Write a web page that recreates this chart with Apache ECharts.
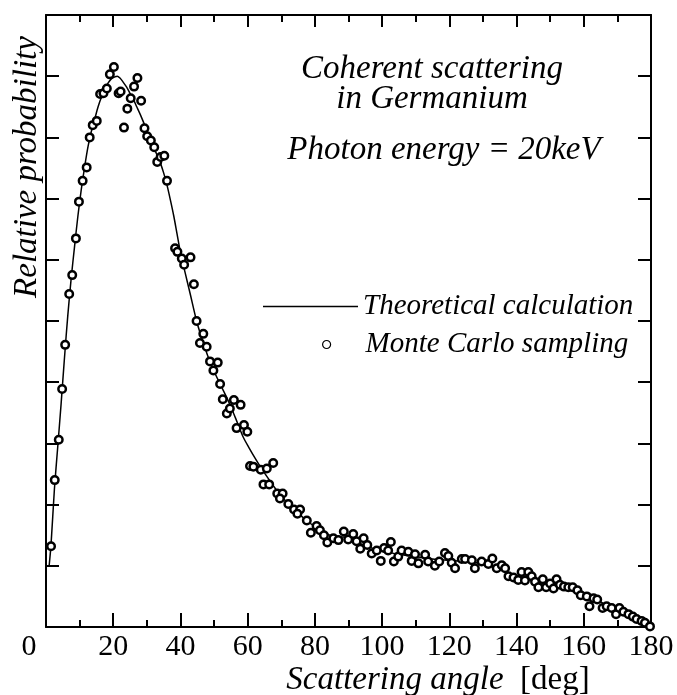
<!DOCTYPE html>
<html>
<head>
<meta charset="utf-8">
<script src="https://cdn.jsdelivr.net/npm/echarts@6/dist/echarts.min.js"></script>
<style>
html,body{margin:0;padding:0;background:#fff;}
#chart{width:677px;height:695px;}
</style>
</head>
<body>
<div id="chart"></div>
<script>
// ---- data ----
var xTickLabels = ['0','20','40','60','80','100','120','140','160','180'];
var xTickValues = [0,20,40,60,80,100,120,140,160,180];

// Theoretical calculation curve: [angle deg, relative probability]
var theoryAngle = [0.9,1.5,2.5,3.5,4.5,5.5,6.5,7.5,8.5,9.5,10.5,11.5,12.5,13.5,14.5,15.5,16.5,17.5,18.5,19.5,20.5,21.2,22,23,24,25,26,27,28,29.5,31,32.5,33.9,35,36,37,38,39,40,41,42,43,44.8,46,48,50,51.8,53.5,55,57,58.7,60.5,62.2,64,65.7,68,70,72.5,75,77.5,80,82.5,85,87,88.5,90,92.5,95,97.5,100,105,110,115,120,125,130,135,140,145,150,155,160,165,170,175,180];
var theoryValue = [0.98,1.35,2.25,2.95,3.65,4.4,5.1,5.7,6.22,6.72,7.15,7.52,7.85,8.1,8.3,8.5,8.66,8.79,8.89,8.96,8.99,9.0,8.97,8.9,8.82,8.72,8.62,8.5,8.38,8.18,7.95,7.78,7.6,7.42,7.22,6.98,6.72,6.42,6.12,5.88,5.65,5.42,5.0,4.78,4.45,4.18,3.97,3.78,3.6,3.33,3.1,2.92,2.76,2.6,2.46,2.28,2.14,1.99,1.86,1.74,1.64,1.55,1.49,1.47,1.47,1.45,1.39,1.33,1.28,1.24,1.19,1.15,1.11,1.09,1.07,1.03,0.94,0.84,0.77,0.7,0.63,0.53,0.41,0.28,0.15,0.02];

// Monte Carlo sampling points
var mcAngle = [1.5,2.6,3.8,4.8,5.7,6.9,7.8,8.9,9.8,10.9,12.1,13.0,13.9,15.1,16.1,17.1,18.1,19.0,20.2,21.6,22.2,23.2,24.2,25.2,26.2,27.2,28.3,29.3,30.1,31.2,32.2,33.1,34.1,35.2,36.0,
  38.4,39.1,40.4,41.1,43.0,44.0,44.8,45.8,46.8,47.8,48.8,49.8,51.1,51.8,52.6,53.8,54.7,55.9,56.7,57.9,58.9,59.9,
  60.7,61.7,63.9,65.7,67.6,64.7,66.4,68.8,70.4,69.6,72.1,73.8,75.6,74.8,77.6,78.8,80.5,81.5,82.7,83.7,85.5,87.0,88.6,89.9,91.4,92.4,93.5,94.5,95.6,96.9,98.4,99.6,
  100.6,101.8,102.6,103.5,104.8,105.8,107.8,108.8,109.8,110.8,112.8,113.7,115.7,117.0,118.7,119.7,120.7,121.7,123.7,124.7,126.7,127.6,129.6,131.6,132.8,134.1,
  135.6,136.6,137.6,139.1,140.5,141.5,142.5,143.5,144.5,145.5,146.5,147.8,148.8,150.0,151.0,151.9,152.9,154.1,155.4,156.7,158.1,159.1,160.9,161.7,162.9,164.0,165.6,166.8,168.3,169.6,170.6,171.8,173.3,174.6,175.7,177.2,178.2,179.7];
var mcValue = [1.32,2.40,3.06,3.89,4.61,5.44,5.75,6.35,6.95,7.29,7.51,8.0,8.2,8.27,8.71,8.72,8.80,9.03,9.15,8.72,8.75,8.16,8.47,8.64,8.83,8.97,8.60,8.15,8.02,7.95,7.84,7.60,7.68,7.70,7.29,
  6.19,6.13,6.02,5.92,6.04,5.60,5.00,4.64,4.79,4.58,4.34,4.19,4.32,3.97,3.72,3.49,3.57,3.71,3.25,3.63,3.30,3.19,
  2.63,2.62,2.57,2.59,2.68,2.33,2.33,2.18,2.18,2.10,2.01,1.92,1.92,1.85,1.74,1.54,1.65,1.58,1.50,1.38,1.45,1.42,1.56,1.43,1.52,1.40,1.28,1.45,1.34,1.20,1.25,1.08,
  1.29,1.25,1.39,1.07,1.15,1.25,1.23,1.08,1.19,1.04,1.18,1.07,1.00,1.07,1.21,1.16,1.05,0.96,1.11,1.11,1.09,0.96,1.07,1.03,1.12,0.96,
  1.01,0.96,0.83,0.81,0.77,0.90,0.76,0.90,0.83,0.74,0.65,0.78,0.65,0.71,0.63,0.78,0.69,0.66,0.65,0.65,0.60,0.52,0.50,0.34,0.47,0.45,0.31,0.34,0.31,0.21,0.31,0.25,0.21,0.17,0.13,0.10,0.07,0.01];

var theoryData = theoryAngle.map(function(a,i){return [a, theoryValue[i]];});
var mcData = mcAngle.map(function(a,i){return [a, mcValue[i]];});

var SERIF = '"Liberation Serif", "DejaVu Serif", serif';
var chart = echarts.init(document.getElementById('chart'), null, {renderer:'canvas'});

function xAxisBase(pos, showLabel, tickLen){
  return {
    type:'value', position:pos, min:0, max:180, interval:20,
    axisLine:{show:true, onZero:false, lineStyle:{color:'#000', width:2}},
    axisTick:{show:true, inside:true, length:tickLen, lineStyle:{color:'#000', width:2}},
    minorTick:{show:true, splitNumber:2, length:7, lineStyle:{color:'#000', width:2}},
    splitLine:{show:false}, minorSplitLine:{show:false},
    axisLabel:{
      show:showLabel, margin:5, color:'#000', fontSize:30, fontFamily:SERIF,
      formatter:function(v){
        var idx = xTickValues.indexOf(v);
        var t = idx >= 0 ? xTickLabels[idx] : '';
        return v === 0 ? '{z|' + t + '}' : t;
      },
      rich:{ z:{fontSize:30, fontFamily:SERIF, color:'#000', padding:[0,34,0,0]} }
    }
  };
}
function yAxisBase(pos){
  return {
    type:'value', position:pos, min:0, max:10, interval:1,
    axisLine:{show:true, onZero:false, lineStyle:{color:'#000', width:2}},
    axisTick:{show:true, inside:true, length:13, lineStyle:{color:'#000', width:2}},
    splitLine:{show:false},
    axisLabel:{show:false}
  };
}

var option = {
  backgroundColor:'#fff',
  animation:false,
  grid:{left:46, right:26, top:15, bottom:68, containLabel:false},
  xAxis:[xAxisBase('bottom', true, 14), xAxisBase('top', false, 12)],
  yAxis:[yAxisBase('left'), yAxisBase('right')],
  legend:[
    {
      data:[{name:'Theoretical calculation', icon:'rect'}], orient:'vertical', left:258, top:287,
      itemWidth:95, itemHeight:1.5, selectedMode:false,
      itemStyle:{color:'#000', borderWidth:0},
      textStyle:{fontSize:29, fontStyle:'italic', fontFamily:SERIF, color:'#000'}
    },
    {
      data:['Monte Carlo sampling'], orient:'vertical', left:317, top:325,
      itemWidth:8, itemHeight:8, selectedMode:false,
      itemStyle:{borderWidth:1.2, borderColor:'#000', color:'#fff'},
      textStyle:{fontSize:29, fontStyle:'italic', fontFamily:SERIF, color:'#000', padding:[0,0,0,30]}
    }
  ],
  graphic:[
    {type:'text', x:27, y:167, rotation:Math.PI/2, style:{text:'Relative probability', fontSize:33, fontStyle:'italic', fontFamily:SERIF, fill:'#000', align:'center', verticalAlign:'middle'}},
    {type:'text', x:438, y:680, style:{text:'{i|Scattering angle}  {r|[deg]}', fontSize:33, fontFamily:SERIF, fill:'#000', align:'center', verticalAlign:'middle',
      rich:{i:{fontSize:33, fontStyle:'italic', fontFamily:SERIF, fill:'#000'}, r:{fontSize:33, fontFamily:SERIF, fill:'#000'}}}},
    {type:'text', x:432, y:69, style:{text:'Coherent scattering', fontSize:33, fontStyle:'italic', fontFamily:SERIF, fill:'#000', align:'center', verticalAlign:'middle'}},
    {type:'text', x:432, y:99, style:{text:'in Germanium', fontSize:33, fontStyle:'italic', fontFamily:SERIF, fill:'#000', align:'center', verticalAlign:'middle'}},
    {type:'text', x:444, y:150, style:{text:'Photon energy = 20keV', fontSize:33, fontStyle:'italic', fontFamily:SERIF, fill:'#000', align:'center', verticalAlign:'middle'}}
  ],
  series:[
    {
      name:'Theoretical calculation', type:'line', data:theoryData, smooth:0.3,
      symbol:'none', showSymbol:false, xAxisIndex:0, yAxisIndex:0,
      lineStyle:{color:'#000', width:1.5}, itemStyle:{color:'#000'}, z:3
    },
    {
      name:'Monte Carlo sampling', type:'scatter', data:mcData, xAxisIndex:0, yAxisIndex:0,
      symbol:'circle', symbolSize:7.5,
      itemStyle:{color:'#fff', borderColor:'#000', borderWidth:2.5, opacity:1}, z:4
    }
  ]
};
chart.setOption(option);
</script>
</body>
</html>
